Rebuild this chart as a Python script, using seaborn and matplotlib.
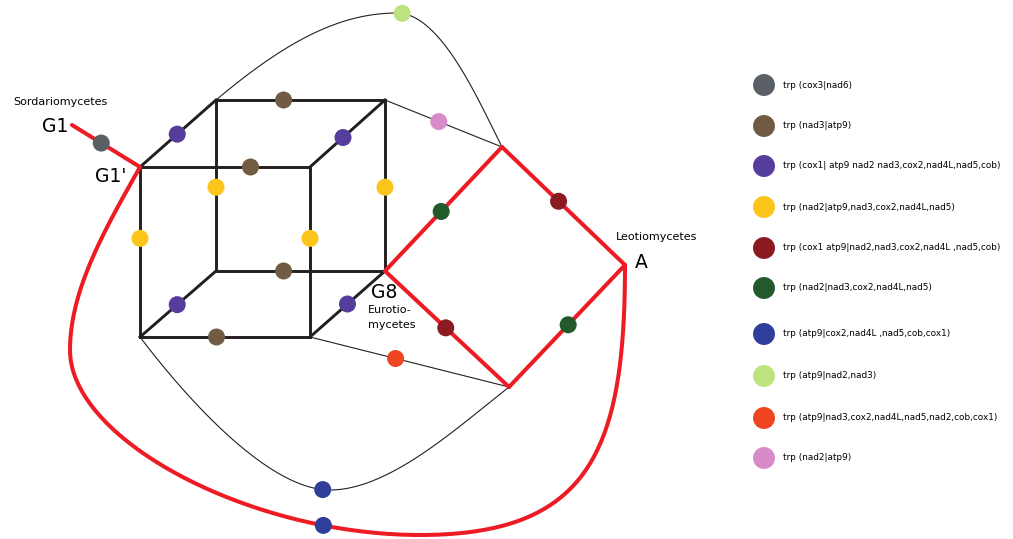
import numpy as np
import pandas as pd
import matplotlib
matplotlib.use("Agg")
import matplotlib.pyplot as plt
import seaborn as sns

# %% Data: legend categories and colours
categories = [
    "trp (cox3|nad6)",
    "trp (nad3|atp9)",
    "trp (cox1| atp9 nad2 nad3,cox2,nad4L,nad5,cob)",
    "trp (nad2|atp9,nad3,cox2,nad4L,nad5)",
    "trp (cox1 atp9|nad2,nad3,cox2,nad4L ,nad5,cob)",
    "trp (nad2|nad3,cox2,nad4L,nad5)",
    "trp (atp9|cox2,nad4L ,nad5,cob,cox1)",
    "trp (atp9|nad2,nad3)",
    "trp (atp9|nad3,cox2,nad4L,nad5,nad2,cob,cox1)",
    "trp (nad2|atp9)",
]
colors = ["#5a5f66", "#715b42", "#553d9c", "#fbc51b", "#8b1a22",
          "#225a2c", "#2f3e9b", "#bde27f", "#f04523", "#d88bc9"]

# %% Data: network nodes (pixel layout of the diagram)
nodes = {
    "G1": (72, 125), "G1p": (140, 167), "F_TR": (310, 167),
    "F_BL": (140, 337), "F_BR": (310, 337),
    "B_TL": (216, 100), "B_TR": (385, 100), "B_BL": (216, 271), "G8": (385, 271),
    "R_top": (502, 147), "A": (625, 265), "R_bot": (509, 387),
}
cube_edges = [("G1p", "F_TR"), ("F_TR", "F_BR"), ("F_BR", "F_BL"), ("F_BL", "G1p"),
              ("B_TL", "B_TR"), ("B_TR", "G8"), ("G8", "B_BL"), ("B_BL", "B_TL"),
              ("G1p", "B_TL"), ("F_TR", "B_TR"), ("F_BL", "B_BL"), ("F_BR", "G8")]
red_edges = [("G1", "G1p"), ("G8", "R_top"), ("R_top", "A"), ("A", "R_bot"), ("R_bot", "G8")]
thin_edges = [("B_TR", "R_top"), ("F_BR", "R_bot")]

# curved edges as cubic bezier segments (start, ctrl1, ctrl2, end)
top_curve = [[(216, 100), (286, 41), (340, 13), (397, 13)],
             [(397, 13), (440, 13), (477, 97), (502, 147)]]
bottom_curve = [[(140, 337), (190, 403), (270, 490), (330, 490)],
                [(330, 490), (390, 490), (459, 426), (509, 387)]]
outer_curve = [[(140, 167), (105, 229), (70, 290), (70, 350)],
               [(70, 350), (70, 440), (250, 535), (420, 535)],
               [(420, 535), (590, 535), (625, 450), (625, 265)]]

# dots: (edge or curve segment, fraction along it, category index)
edge_dots = [
    (("G1", "G1p"), 0.43, 0),
    (("B_TL", "B_TR"), 0.40, 1), (("G1p", "F_TR"), 0.65, 1),
    (("B_BL", "G8"), 0.40, 1), (("F_BL", "F_BR"), 0.45, 1),
    (("G1p", "B_TL"), 0.49, 2), (("F_TR", "B_TR"), 0.44, 2),
    (("F_BL", "B_BL"), 0.49, 2), (("F_BR", "G8"), 0.50, 2),
    (("B_TL", "B_BL"), 0.51, 3), (("B_TR", "G8"), 0.51, 3),
    (("G1p", "F_BL"), 0.42, 3), (("F_TR", "F_BR"), 0.42, 3),
    (("R_top", "A"), 0.46, 4), (("G8", "R_bot"), 0.49, 4),
    (("G8", "R_top"), 0.48, 5), (("R_bot", "A"), 0.51, 5),
    (("F_BR", "R_bot"), 0.43, 8),
    (("B_TR", "R_top"), 0.46, 9),
]
curve_dots = [
    (top_curve[1], 0.04, 7),
    (bottom_curve[0], 0.96, 6),
    (outer_curve[1], 0.81, 6),
]


def bezier(seg, t):
    p = np.array(seg, dtype=float)
    t = np.atleast_1d(t)[:, None]
    return ((1 - t) ** 3 * p[0] + 3 * (1 - t) ** 2 * t * p[1]
            + 3 * (1 - t) * t ** 2 * p[2] + t ** 3 * p[3])


def curve_xy(segs):
    tt = np.linspace(0, 1, 80)
    return np.vstack([bezier(s, tt) for s in segs])


# %% Build dot table
rows = []
for (a, b), t, c in edge_dots:
    (x0, y0), (x1, y1) = nodes[a], nodes[b]
    rows.append({"x": x0 + t * (x1 - x0), "y": y0 + t * (y1 - y0), "label": categories[c]})
for seg, t, c in curve_dots:
    x, y = bezier(seg, t)[0]
    rows.append({"x": x, "y": y, "label": categories[c]})
dots = pd.DataFrame(rows)
palette = dict(zip(categories, colors))

# %% Plot
sns.set_style("white")
fig = plt.figure(figsize=(10.13, 5.39), dpi=100)
ax = fig.add_axes([0, 0, 1, 1])
ax.set_xlim(0, 1013)
ax.set_ylim(539, 0)
ax.axis("off")

black = "#231f20"
red = "#ed1c24"
for a, b in cube_edges:
    xs, ys = zip(nodes[a], nodes[b])
    ax.plot(xs, ys, color=black, lw=2.1, solid_capstyle="projecting", zorder=2)
for a, b in thin_edges:
    xs, ys = zip(nodes[a], nodes[b])
    ax.plot(xs, ys, color=black, lw=0.8, zorder=1)
for segs in (top_curve, bottom_curve):
    xy = curve_xy(segs)
    ax.plot(xy[:, 0], xy[:, 1], color=black, lw=0.8, zorder=1)
for a, b in red_edges:
    xs, ys = zip(nodes[a], nodes[b])
    ax.plot(xs, ys, color=red, lw=2.9, zorder=3)
xy = curve_xy(outer_curve)
ax.plot(xy[:, 0], xy[:, 1], color=red, lw=2.9, zorder=3, solid_joinstyle="round")

sns.scatterplot(data=dots, x="x", y="y", hue="label", palette=palette,
                s=150, edgecolor="none", legend=False, ax=ax, zorder=5)

# node labels
txt = dict(color="black", va="center")
ax.text(60, 102, "Sordariomycetes", fontsize=8, ha="center", **txt)
ax.text(55, 127, "G1", fontsize=13.5, ha="center", **txt)
ax.text(111, 177, "G1'", fontsize=13.5, ha="center", **txt)
ax.text(384, 292, "G8", fontsize=13.5, ha="center", **txt)
ax.text(368, 310, "Eurotio-", fontsize=8, ha="left", **txt)
ax.text(368, 325, "mycetes", fontsize=8, ha="left", **txt)
ax.text(657, 237, "Leotiomycetes", fontsize=8, ha="center", **txt)
ax.text(641, 263, "A", fontsize=13.5, ha="center", **txt)

# legend
leg_y = [85, 126, 166, 207, 248, 288, 334, 376, 418, 458]
leg = pd.DataFrame({"x": [764] * len(categories), "y": leg_y, "label": categories})
sns.scatterplot(data=leg, x="x", y="y", hue="label", palette=palette,
                s=250, edgecolor="none", legend=False, ax=ax, zorder=5)
for yy, lab in zip(leg_y, categories):
    ax.text(783, yy, lab, fontsize=6.4, ha="left", **txt)

fig.savefig("out.png", dpi=100)
